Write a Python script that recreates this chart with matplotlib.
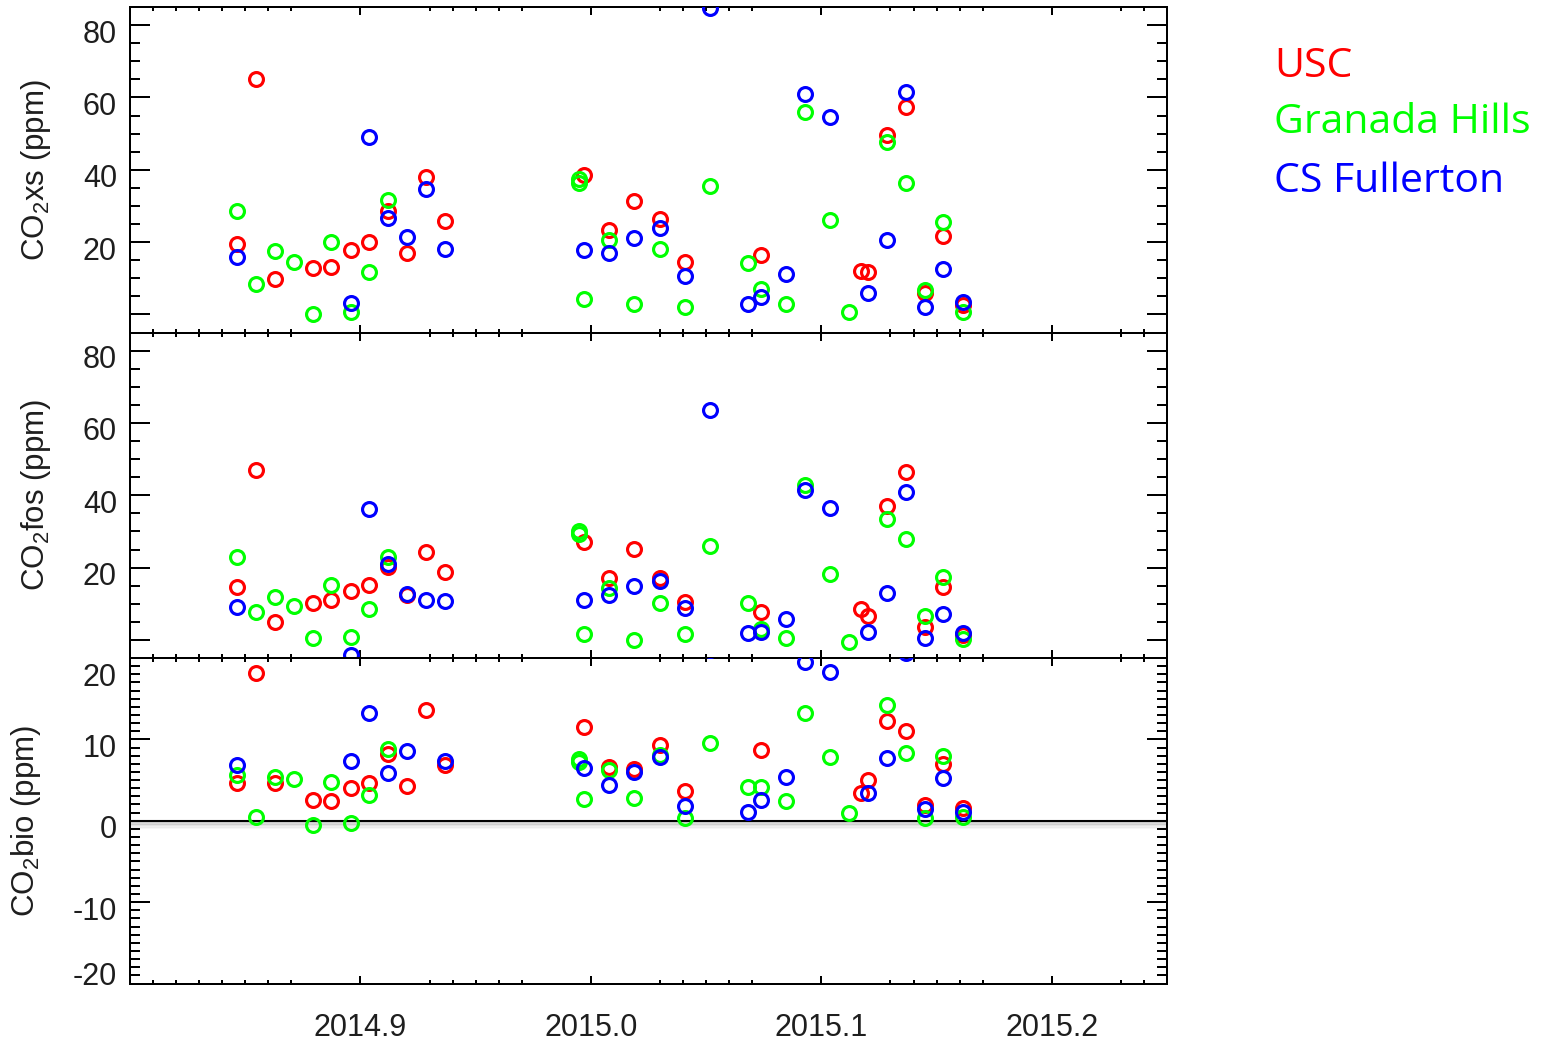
import numpy as np
import matplotlib
matplotlib.use("Agg")
import matplotlib.pyplot as plt
from matplotlib.ticker import FixedLocator, FixedFormatter
from matplotlib.transforms import ScaledTranslation, offset_copy

plt.rcParams['font.family'] = ['Liberation Sans', 'DejaVu Sans']
plt.rcParams['mathtext.fontset'] = 'custom'
plt.rcParams['mathtext.rm'] = 'Liberation Sans'
plt.rcParams['mathtext.it'] = 'Liberation Sans:italic'
plt.rcParams['mathtext.bf'] = 'Liberation Sans:bold'

# ---------------- data (decimal year, ppm) ----------------
usc_dates = [2014.8465, 2014.8548, 2014.8628, 2014.8793, 2014.8874, 2014.8957,
             2014.9039, 2014.9120, 2014.9202, 2014.9286, 2014.9368, 2014.9972,
             2015.0079, 2015.0189, 2015.0299, 2015.0409, 2015.0737, 2015.1171,
             2015.1201, 2015.1283, 2015.1366, 2015.1449, 2015.1530, 2015.1614]
usc_xs = [19.5, 65.1, 9.8, 12.7, 13.2, 17.7, 20.0, 28.7, 17.0, 37.9, 25.7, 38.6,
          23.4, 31.4, 26.3, 14.4, 16.3, 11.9, 11.6, 49.6, 57.4, 5.9, 21.7, 2.7]
usc_fos = [14.7, 47.0, 4.9, 10.1, 10.9, 13.6, 15.3, 20.1, 12.5, 24.2, 18.9, 27.0,
           17.1, 25.1, 17.1, 10.6, 7.6, 8.6, 6.7, 37.1, 46.5, 3.7, 14.6, 1.4]
usc_bio = [4.6, 18.2, 4.7, 2.5, 2.4, 4.0, 4.7, 8.2, 4.3, 13.6, 6.8, 11.5,
           6.6, 6.4, 9.3, 3.7, 8.7, 3.4, 5.0, 12.3, 11.0, 1.9, 7.0, 1.6]

gh_dates = [2014.8465, 2014.8548, 2014.8628, 2014.8711, 2014.8793, 2014.8874,
            2014.8957, 2014.9039, 2014.9120, 2014.9949, 2014.9950, 2014.9972,
            2015.0079, 2015.0189, 2015.0299, 2015.0409, 2015.0517, 2015.0682,
            2015.0737, 2015.0847, 2015.0929, 2015.1037, 2015.1120, 2015.1283,
            2015.1366, 2015.1449, 2015.1530, 2015.1614]
gh_xs = [28.5, 8.5, 17.4, 14.5, 0.0, 20.0, 0.6, 11.6, 31.5, 37.4, 36.3, 4.3,
         20.5, 3.0, 18.2, 2.1, 35.6, 14.2, 7.0, 2.9, 56.0, 26.1, 0.6, 47.8,
         36.2, 6.8, 25.6, 0.6]
gh_fos = [22.9, 7.8, 12.0, 9.4, 0.4, 15.1, 0.9, 8.5, 23.0, 30.0, 29.3, 1.6,
          14.3, 0.0, 10.1, 1.6, 26.0, 10.1, 2.9, 0.4, 42.9, 18.2, -0.5, 33.5,
          27.8, 6.5, 17.5, 0.2]
gh_bio = [5.6, 0.5, 5.4, 5.1, -0.5, 4.8, -0.3, 3.2, 8.8, 7.6, 7.2, 2.7,
          6.2, 2.8, 8.1, 0.3, 9.6, 4.1, 4.1, 2.4, 13.3, 7.8, 0.9, 14.2,
          8.3, 0.3, 7.9, 0.5]

csf_dates = [2014.8465, 2014.8957, 2014.9039, 2014.9120, 2014.9202, 2014.9286,
             2014.9368, 2014.9972, 2015.0079, 2015.0189, 2015.0299, 2015.0409,
             2015.0517, 2015.0682, 2015.0737, 2015.0847, 2015.0929, 2015.1037,
             2015.1201, 2015.1283, 2015.1366, 2015.1449, 2015.1530, 2015.1614]
csf_xs = [16.0, 3.2, 49.1, 26.6, 21.3, 34.6, 18.1, 17.7, 17.0, 21.0, 24.0, 10.5,
          84.6, 3.0, 4.8, 11.1, 61.0, 54.7, 5.9, 20.7, 61.5, 2.1, 12.6, 3.4]
csf_fos = [9.0, -4.1, 36.1, 20.9, 12.7, 11.1, 10.8, 11.1, 12.4, 14.9, 16.4, 8.8,
           63.6, 1.8, 2.3, 5.7, 41.5, 36.4, 2.1, 13.0, 40.9, 0.5, 7.2, 1.8]
csf_bio = [6.9, 7.3, 13.2, 5.9, 8.6, 23.5, 7.4, 6.5, 4.4, 6.0, 7.8, 1.8,
           21.0, 1.1, 2.6, 5.4, 19.5, 18.3, 3.4, 7.7, 20.6, 1.5, 5.3, 1.1]

site_names = ['USC', 'Granada Hills', 'CS Fullerton']
site_colors = ['#ff0000', '#00ff00', '#0000ff']

x_major = [2014.9, 2015.0, 2015.1, 2015.2]
x_major_labels = ['2014.9', '2015.0', '2015.1', '2015.2']
ppm_major = [0, 20, 40, 60, 80]
ppm_major_labels = ['', '20', '40', '60', '80']
bio_major = [-20, -10, 0, 10, 20]
bio_major_labels = ['-20', '-10', '0', '10', '20']

# ---------------- figure ----------------
W, H = 1541, 1047
DPI = 100
fig = plt.figure(figsize=(W / DPI, H / DPI), dpi=DPI)
fig.patch.set_facecolor('white')


def px_rect(left, top, right, bottom):
    return [left / W, 1 - bottom / H, (right - left) / W, (bottom - top) / H]


ax_xs = fig.add_axes(px_rect(130, 7, 1167, 332.5))
ax_fos = fig.add_axes(px_rect(130, 332.5, 1167, 658))
ax_bio = fig.add_axes(px_rect(130, 658, 1167, 983.5))
axes = [ax_xs, ax_fos, ax_bio]

panel_data = {
    ax_xs: [(usc_dates, usc_xs), (gh_dates, gh_xs), (csf_dates, csf_xs)],
    ax_fos: [(usc_dates, usc_fos), (gh_dates, gh_fos), (csf_dates, csf_fos)],
    ax_bio: [(usc_dates, usc_bio), (gh_dates, gh_bio), (csf_dates, csf_bio)],
}

for ax, series in panel_data.items():
    for k, ((d, v), c) in enumerate(zip(series, site_colors)):
        ax.plot(d, v, linestyle='none', marker='o', markersize=10,
                markerfacecolor='none', markeredgecolor=c,
                markeredgewidth=2.25, zorder=3 + k)

# zero line with a soft shadow underneath
ytrans = ax_bio.get_yaxis_transform()
for off, a in [(1.5, 0.34), (3.0, 0.26), (4.5, 0.18), (6.0, 0.11), (7.5, 0.06)]:
    ax_bio.plot([0, 1], [0, 0], color='#808080', lw=1.6, alpha=a,
                transform=offset_copy(ytrans, fig=fig, x=0, y=-off, units='dots'),
                zorder=1.5, solid_capstyle='butt')
ax_bio.plot([0, 1], [0, 0], color='black', lw=1.5, transform=ytrans, zorder=2)

x_minor = [v for v in np.round(np.arange(2014.81, 2015.25, 0.01), 3)
           if not np.any(np.isclose(v, x_major))]

LW = 1.44
for ax in axes:
    ax.set_xlim(2014.80, 2015.25)
    ax.xaxis.set_major_locator(FixedLocator(x_major))
    ax.xaxis.set_minor_locator(FixedLocator(x_minor))
    ax.xaxis.set_major_formatter(FixedFormatter(x_major_labels))
    for s in ax.spines.values():
        s.set_linewidth(LW)
    ax.tick_params(axis='both', which='both', direction='in', top=True,
                   right=True, width=LW, color='black', labelsize=22,
                   labelcolor='#1e1e1e')
    ax.tick_params(axis='x', which='major', length=5.8, pad=21)
    ax.tick_params(axis='x', which='minor', length=2.9)
    ax.tick_params(axis='y', which='major', length=14.4, pad=9.4)
    ax.tick_params(axis='y', which='minor', length=7.2)

for ax in (ax_xs, ax_fos):
    ax.set_ylim(-5, 85)
    ax.yaxis.set_major_locator(FixedLocator(ppm_major))
    ax.yaxis.set_major_formatter(FixedFormatter(ppm_major_labels))
    ax.yaxis.set_minor_locator(FixedLocator(np.arange(-5, 86, 5)))
    ax.tick_params(axis='x', labelbottom=False)

ax_bio.set_ylim(-20, 20)
ax_bio.yaxis.set_major_locator(FixedLocator(bio_major))
ax_bio.yaxis.set_major_formatter(FixedFormatter(bio_major_labels))
ax_bio.yaxis.set_minor_locator(FixedLocator(np.arange(-20, 21, 1)))

# nudge y tick labels slightly below their tick marks
def shift_labels(ax, shifts):
    for tick, dy in zip(ax.yaxis.get_major_ticks(), shifts):
        tr = ScaledTranslation(0, -dy / DPI, fig.dpi_scale_trans)
        tick.label1.set_transform(tick.label1.get_transform() + tr)

shift_labels(ax_xs, [6, 6, 6, 6, 6])
shift_labels(ax_fos, [6, 6, 6, 6, 6])
shift_labels(ax_bio, [-10, 6, 6, 6, 17])

# axis titles
label_kw = dict(rotation=90, ha='center', va='center', fontsize=22.5,
                color='#1e1e1e')
fig.text(36 / W, 1 - 170 / H, 'CO$_2$xs (ppm)', **label_kw)
fig.text(36 / W, 1 - 495 / H, 'CO$_2$fos (ppm)', **label_kw)
fig.text(26 / W, 1 - 821 / H, 'CO$_2$bio (ppm)', **label_kw)

# site key
for name, c, base in zip(site_names, site_colors, [77, 133, 192]):
    fig.text(1274 / W, 1 - base / H, name, color=c, fontsize=29.5,
             family=['Open Sans', 'DejaVu Sans'], va='baseline', ha='left')

fig.savefig('out.png', dpi=DPI, facecolor='white')
